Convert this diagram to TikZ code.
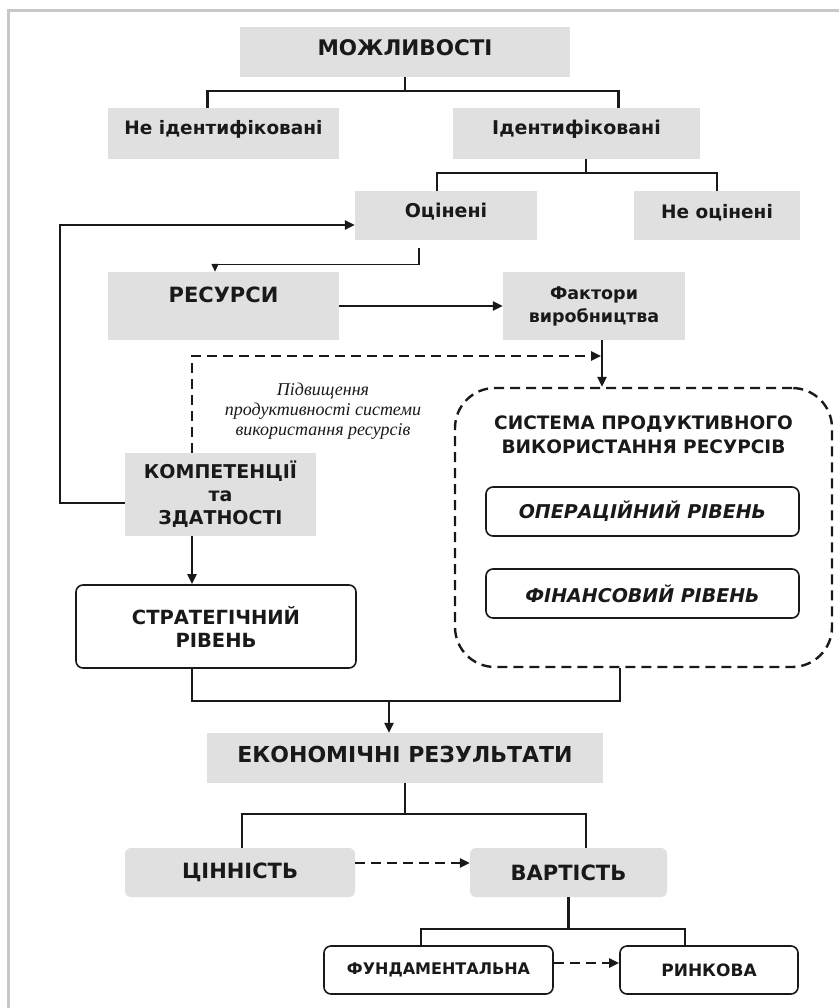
\documentclass[tikz,border=0pt]{standalone}
\usepackage{fontspec}
\setmainfont{DejaVu Sans}
\newfontfamily\notefont{Liberation Serif}
\usetikzlibrary{calc,positioning,arrows.meta}
\definecolor{gray1}{RGB}{224,224,224}
\definecolor{gray2}{RGB}{200,200,200}
\definecolor{black1}{RGB}{25,25,25}

\begin{document}
\begin{tikzpicture}[x=1pt,y=-1pt,
  gbox/.style={fill=gray1, inner sep=0pt, align=center, text=black1},
  wbox/.style={draw=black1, line width=1.6pt, rounded corners=7pt, fill=white, inner sep=0pt, align=center, text=black1},
  tree/.style={line width=2.4pt, black1},
  conn/.style={line width=2.4pt, black1, -{Triangle[length=10pt,width=9pt]}},
  dconn/.style={conn, dash pattern=on 10pt off 6pt},
]
\useasboundingbox (0,0) rectangle (839,1008);

% frame: only top and left edges show
\draw[gray2, line width=3pt] (8,1008) -- (8,11) -- (839,11);

% ----- ROW 1: opportunities -----
\node[gbox, minimum width=330pt, minimum height=50pt, text depth=8pt, font=\bfseries\fontsize{21.5}{25}\selectfont] (mozh) at (405,52) {МОЖЛИВОСТІ};
\node[gbox, minimum width=231pt, minimum height=51pt, text depth=12pt, font=\bfseries\fontsize{18.5}{22}\selectfont] (neid) at (223.5,133.5) {Не ідентифіковані};
\node[gbox, minimum width=247pt, minimum height=51pt, text depth=12pt, font=\bfseries\fontsize{19}{22}\selectfont] (ident) at (576.5,133.5) {Ідентифіковані};
\draw[tree] (mozh.south) -- ++(0,14) coordinate (m1);
\draw[tree] ([xshift=-16pt]neid.north) |- (m1) -| ([xshift=42pt]ident.north);

% ----- ROW 2: evaluated / not evaluated -----
\node[gbox, minimum width=182pt, minimum height=49pt, text depth=10pt, font=\bfseries\fontsize{19}{22}\selectfont] (ocin) at (446,215.5) {Оцінені};
\node[gbox, minimum width=166pt, minimum height=49pt, text depth=8pt, font=\bfseries\fontsize{18.5}{22}\selectfont] (neocin) at (717,215.5) {Не оцінені};
\draw[tree] ([xshift=9.5pt]ident.south) -- ++(0,14) coordinate (m2);
\draw[tree] ([xshift=-9pt]ocin.north) |- (m2) -| (neocin.north);

% ----- ROW 3: resources -> factors -----
\node[gbox, minimum width=231pt, minimum height=68pt, text depth=22pt, font=\bfseries\fontsize{21}{25}\selectfont] (resursy) at (223.5,306) {РЕСУРСИ};
\node[gbox, minimum width=182pt, minimum height=68pt, font=\bfseries\fontsize{17.5}{23}\selectfont] (faktory) at (594,306) {Фактори\\виробництва};
\draw[black1, line width=1.3pt, -{Triangle[length=8pt,width=7pt]}] ([xshift=-27pt,yshift=-8pt]ocin.south) -- ++(0,16) -| ([xshift=-8.5pt]resursy.north);
\draw[conn] (resursy.east) -- (faktory.west);

% ----- competences and the feedback loops -----
\node[gbox, minimum width=191pt, minimum height=83pt, font=\bfseries\fontsize{19}{23}\selectfont] (komp) at (220.5,494.5) {КОМПЕТЕНЦІЇ\\та\\ЗДАТНОСТІ};
\draw[conn] ([yshift=-8.5pt]komp.west) -- ++(-65,0) |- ([yshift=-9.5pt]ocin.west);
\coordinate (dashend) at (601,356);
\draw[dconn] ([xshift=-28.5pt]komp.north) |- (dashend);
\node[font=\notefont\itshape\fontsize{18}{20}\selectfont, align=center, text=black1] (note) at (323,411) {Підвищення\\продуктивності системи\\використання ресурсів};

% ----- system of productive use -----
\node[draw=black1, dash pattern=on 10pt off 6pt, line width=2.4pt, rounded corners=40pt, minimum width=377pt, minimum height=279pt] (system) at (643.5,527.5) {};
\node[font=\bfseries\fontsize{18.5}{24}\selectfont, align=center, text=black1] (systitle) at (643.5,435) {СИСТЕМА ПРОДУКТИВНОГО\\ВИКОРИСТАННЯ РЕСУРСІВ};
\node[wbox, minimum width=313pt, minimum height=49pt, font=\bfseries\itshape\fontsize{19}{22}\selectfont] (oper) at (642.5,511.5) {ОПЕРАЦІЙНИЙ РІВЕНЬ};
\node[wbox, minimum width=313pt, minimum height=49pt, font=\bfseries\itshape\fontsize{19}{22}\selectfont] (fin) at (642.5,593.5) {ФІНАНСОВИЙ РІВЕНЬ};
\draw[conn] ([xshift=8pt]faktory.south) -- ([xshift=8pt]faktory.south |- system.north);

% ----- strategic level -----
\node[wbox, minimum width=280pt, minimum height=83pt, font=\bfseries\fontsize{19.5}{23}\selectfont] (strat) at (216,626.5) {СТРАТЕГІЧНИЙ\\РІВЕНЬ};
\draw[conn] ([xshift=-28.5pt]komp.south) -- ([xshift=-28.5pt]komp.south |- strat.north);

% ----- economic results -----
\node[gbox, minimum width=396pt, minimum height=50pt, text depth=8pt, font=\bfseries\fontsize{22}{26}\selectfont] (ekon) at (405,758) {ЕКОНОМІЧНІ РЕЗУЛЬТАТИ};
\draw[tree] ([xshift=-24pt]strat.south) -- ++(0,32) coordinate (sj) -| ([xshift=-23.5pt]system.south);
\draw[conn] ([xshift=-16pt]ekon.north |- sj) -- ([xshift=-16pt]ekon.north);

% ----- value / cost -----
\node[gbox, rounded corners=6pt, minimum width=230pt, minimum height=49pt, font=\bfseries\fontsize{21}{25}\selectfont] (cinn) at (240,872.5) {ЦІННІСТЬ};
\node[gbox, rounded corners=6pt, minimum width=197pt, minimum height=49pt, font=\bfseries\fontsize{21}{25}\selectfont] (vart) at (568.5,872.5) {ВАРТІСТЬ};
\draw[tree] (ekon.south) -- ++(0,31) coordinate (m3);
\draw[tree] ([xshift=2pt]cinn.north) |- (m3) -| ([xshift=17.5pt]vart.north);
\draw[dconn] ([yshift=9.5pt]cinn.east) -- ([yshift=9.5pt]vart.west);

% ----- fundamental / market -----
\node[wbox, minimum width=229pt, minimum height=48pt, font=\bfseries\fontsize{16}{19}\selectfont] (fund) at (438.5,970) {ФУНДАМЕНТАЛЬНА};
\node[wbox, minimum width=178pt, minimum height=48pt, font=\bfseries\fontsize{17}{20}\selectfont] (rynk) at (709,970) {РИНКОВА};
\draw[tree] (vart.south) -- ++(0,32) coordinate (m4);
\draw[tree] ([xshift=-17.5pt]fund.north) |- (m4) -| ([xshift=-24pt]rynk.north);
\draw[dconn] ([yshift=7pt]fund.east) -- ([yshift=7pt]rynk.west);

\end{tikzpicture}
\end{document}
